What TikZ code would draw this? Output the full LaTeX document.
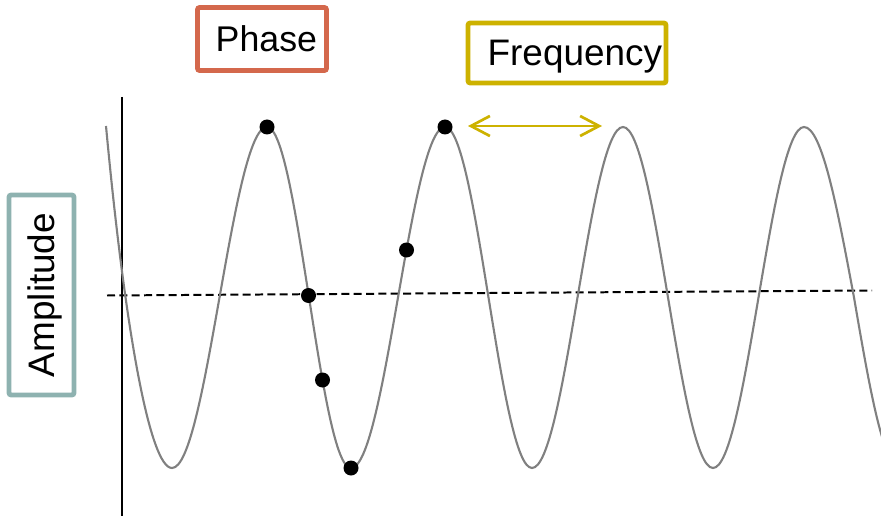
\documentclass[tikz,border=0pt]{standalone}
\usepackage{fontspec}
\setsansfont{Liberation Sans}
\usepackage{xcolor}
\usepackage{tikz}
\usetikzlibrary{arrows.meta}
\definecolor{phasecl}{HTML}{D4684C}
\definecolor{freqcl}{HTML}{CDB200}
\definecolor{ampcl}{HTML}{8EB2B0}
\definecolor{wavecl}{HTML}{808080}
\tikzset{
  every node/.style={font=\sffamily},
  box/.style={draw,line width=4.2pt,rounded corners=2pt,fill=white,inner sep=0pt,
              text depth=0pt,font=\sffamily\fontsize{30.5}{36}\selectfont},
  phasebox/.style={box,draw=phasecl,minimum width=3.87cm,minimum height=1.89cm,
                   text width=3.3cm,align=right},
  freqbox/.style={box,draw=freqcl,minimum width=5.94cm,minimum height=1.8cm,
                  text width=5.7cm,align=right,font=\sffamily\fontsize{31.5}{36}\selectfont},
  ampbox/.style={box,draw=ampcl,minimum width=6cm,minimum height=1.95cm,rotate=90,
                 font=\sffamily\fontsize{31.5}{36}\selectfont},
  dot/.style={circle,fill=black,inner sep=0pt,minimum size=0.45cm},
  wave/.style={draw=wavecl,line width=1.8pt},
  midln/.style={draw=black,line width=1.7pt,dash pattern=on 0.24cm off 0.13cm},
  axis/.style={draw=black,line width=1.8pt},
  ar/.style={<->,>={Straight Barb[length=0.57cm,width=0.6cm]},draw=freqcl,line width=2.3pt},
}

\begin{document}
\begin{tikzpicture}[x=0.03cm,y=-0.03cm]
\useasboundingbox (0,0) rectangle (881,516);

\node[phasebox] (phase) at (262,39) {Phase};
\node[freqbox] (freq) at (567,53) {Frequency};
\node[ampbox] (amp) at (41.5,295) {Amplitude};

\coordinate (axtop) at (122,97);
\coordinate (axbot) at (122,516);
\draw[axis] (axtop) -- (axbot);

\coordinate (midL) at (107,295.5);
\coordinate (midR) at (872,290.5);
\draw[midln] (midL) -- (midR);

\begin{scope}
\clip (0,0) rectangle (881,516);
\draw[wave] (106,126) .. controls (125,330) and (150,468) .. (172,468)
  cos (219.5,297.5) sin (267,127) cos (309,297.5) sin (351,468)
  cos (398,297.5) sin (445,127) cos (488.5,297.5) sin (532,468)
  cos (577.5,297.5) sin (623,127) cos (668,297.5) sin (713,468)
  cos (758.5,297.5) sin (804,127) cos (854,297.5) sin (900,468);
\end{scope}

\node[dot] (top1) at (267,127) {};
\node[dot] (zero1) at (308.5,295.5) {};
\node[dot] (fall1) at (322.5,380) {};
\node[dot] (low1) at (351,468) {};
\node[dot] (rise1) at (406.5,250) {};
\node[dot] (top2) at (445,127) {};

\coordinate (fL) at (468,126);
\coordinate (fR) at (602,126);
\draw[ar] (fL) -- (fR);
\end{tikzpicture}
\end{document}
